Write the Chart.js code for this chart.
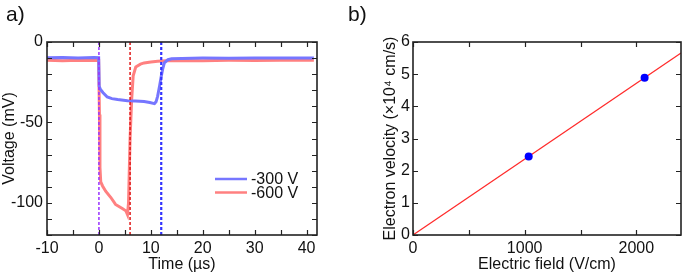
<!DOCTYPE html>
<html>
<head>
<meta charset="utf-8">
<script src="https://cdn.jsdelivr.net/npm/chart.js@4.4.1/dist/chart.umd.min.js"></script>
<style>
  body { margin: 0; background: #fff; }
  #wrap { position: relative; width: 685px; height: 274px; overflow: hidden; font-family: 'Liberation Sans', Arial, sans-serif; }
  canvas { position: absolute; top: 0; }
  #left { left: 0; }
  #right { left: 345px; }
  .panel { position: absolute; font-size: 21px; line-height: 1; color: #111; }
</style>
</head>
<body>
<div id="wrap">
  <canvas id="left" width="340" height="274"></canvas>
  <canvas id="right" width="340" height="274"></canvas>
  <div class="panel" style="left:6px;top:3px">a)</div>
  <div class="panel" style="left:348px;top:3px">b)</div>
</div>
<script>
/* panel a) - voltage transients, time in us, voltage in mV */
const seriesLabels = ['-300 V', '-600 V'];

const blueT = [-10, -7, -4, -1, -0.05, 0.05, 0.3, 0.8, 1.6, 2.5, 3.6, 5.5, 7, 8.7, 9.8, 10.7, 11.0, 11.3, 11.7, 12.0, 12.3, 12.6, 13.3, 14, 16, 20, 25, 30, 35, 41.4];
const blueV = [-9.8, -9.6, -9.9, -9.7, -9.8, -27.5, -29.5, -31.5, -34.2, -35.2, -35.8, -36.5, -36.7, -37.0, -37.6, -38.3, -37.2, -33.8, -27, -21.4, -16.5, -13, -11, -10.4, -10.2, -10.0, -10.1, -9.9, -10.0, -9.9];

const redT = [-10, -7, -4, -1, -0.05, 0.1, 0.2, 0.35, 0.7, 1.3, 2.3, 3.2, 4.5, 5.2, 5.5, 5.7, 6.0, 6.3, 6.6, 7.1, 8, 8.7, 10, 11.3, 13, 16, 20, 25, 30, 35, 41.4];
const redV = [-11.4, -11.6, -11.3, -11.5, -11.5, -45, -78, -87, -89.5, -92.8, -96.7, -101, -103.5, -105, -107.3, -100, -60, -36, -21, -15.5, -13.8, -13, -12.5, -12, -11.7, -11.5, -11.6, -11.4, -11.5, -11.4, -11.4];

const markerTimes = [0, 6, 12];

const aXTicks = [-10, -5, 0, 5, 10, 15, 20, 25, 30, 35, 40];
const aXLabels = [-10, 0, 10, 20, 30, 40];
const aYTicks = [-120, -110, -100, -90, -80, -70, -60, -50, -40, -30, -20, -10, 0];
const aYLabels = [-100, -50, 0];

/* panel b) - electron velocity vs field */
const fieldPts = [1036, 2074];
const velocityPts = [2.44, 4.89];
const fitField = [0, 2400];
const fitVelocity = [0, 5.66];

const bXTicks = [0, 500, 1000, 1500, 2000];
const bXLabels = [0, 1000, 2000];
const bYTicks = [0, 1, 2, 3, 4, 5, 6];

Chart.defaults.font.family = "'Liberation Sans', Arial, sans-serif";
Chart.defaults.font.size = 16;
Chart.defaults.color = '#111';

const toXY = (xs, ys) => xs.map((x, i) => ({ x: x, y: ys[i] }));

/* inward tick marks on all four sides + plot frame */
const frameTicks = {
  id: 'frameTicks',
  afterDatasetsDraw(chart) {
    const { ctx, chartArea: a, scales: { x, y } } = chart;
    ctx.save();
    ctx.strokeStyle = '#222';
    ctx.lineWidth = 1.2;
    ctx.beginPath();
    x.ticks.forEach(t => {
      const px = Math.round(x.getPixelForValue(t.value)) + 0.5;
      ctx.moveTo(px, a.bottom); ctx.lineTo(px, a.bottom - 5);
      ctx.moveTo(px, a.top); ctx.lineTo(px, a.top + 5);
    });
    y.ticks.forEach(t => {
      const py = Math.round(y.getPixelForValue(t.value)) + 0.5;
      ctx.moveTo(a.left, py); ctx.lineTo(a.left + 5, py);
      ctx.moveTo(a.right, py); ctx.lineTo(a.right - 5, py);
    });
    ctx.stroke();
    ctx.lineWidth = 1.6;
    ctx.strokeRect(a.left, a.top, a.width, a.height);
    ctx.restore();
  }
};

/* legend drawn inside panel a) */
const innerLegend = {
  id: 'innerLegend',
  afterDraw(chart) {
    const { ctx } = chart;
    const cols = ['rgb(118,118,255)', 'rgb(255,128,128)'];
    ctx.save();
    ctx.font = "16px 'Liberation Sans', Arial, sans-serif";
    ctx.textBaseline = 'middle';
    ctx.fillStyle = '#111';
    seriesLabels.forEach((lab, i) => {
      const yy = 179 + i * 13.5;
      ctx.strokeStyle = cols[i];
      ctx.lineWidth = 2.5;
      ctx.beginPath();
      ctx.moveTo(215, yy); ctx.lineTo(247, yy);
      ctx.stroke();
      ctx.fillText(lab, 251, yy + 1);
    });
    ctx.restore();
  }
};

function fixedTicks(list) {
  return scale => { scale.ticks = list.map(v => ({ value: v })); };
}

new Chart(document.getElementById('left'), {
  type: 'scatter',
  data: {
    datasets: [
      { data: toXY([markerTimes[0], markerTimes[0]], [0, -120]), showLine: true, pointRadius: 0, borderColor: '#9933ff', borderWidth: 1.5, borderDash: [3, 2] },
      { data: toXY([markerTimes[1], markerTimes[1]], [0, -120]), showLine: true, pointRadius: 0, borderColor: '#e01818', borderWidth: 1.5, borderDash: [3, 2] },
      { data: toXY([markerTimes[2], markerTimes[2]], [0, -120]), showLine: true, pointRadius: 0, borderColor: '#3333ff', borderWidth: 2.2, borderDash: [3, 2] },
      { label: seriesLabels[0], data: toXY(blueT, blueV), showLine: true, pointRadius: 0, borderColor: 'rgb(118,118,255)', borderWidth: 3 },
      { label: seriesLabels[1], data: toXY(redT, redV), showLine: true, pointRadius: 0, borderColor: 'rgb(255,128,128)', borderWidth: 3 }
    ]
  },
  options: {
    responsive: false,
    animation: false,
    devicePixelRatio: 1,
    layout: { padding: { left: 0, top: 42, right: 23, bottom: 0 } },
    plugins: { legend: { display: false }, tooltip: { enabled: false } },
    scales: {
      x: {
        type: 'linear', min: -10, max: 42,
        grid: { display: false, drawTicks: false },
        border: { display: false },
        afterBuildTicks: fixedTicks(aXTicks),
        afterFit: s => { s.height = 39; },
        ticks: { padding: 4, maxRotation: 0, autoSkip: false, callback: v => aXLabels.includes(v) ? String(v) : '' },
        title: { display: true, text: 'Time (\u00b5s)', padding: 0 }
      },
      y: {
        type: 'linear', min: -120, max: 0,
        grid: { display: false, drawTicks: false },
        border: { display: false },
        afterBuildTicks: fixedTicks(aYTicks),
        afterFit: s => { s.width = 47; },
        ticks: { padding: 4, autoSkip: false, callback: v => aYLabels.includes(v) ? String(v) : '' },
        title: { display: true, text: 'Voltage (mV)', padding: 0 }
      }
    }
  },
  plugins: [frameTicks, innerLegend]
});

new Chart(document.getElementById('right'), {
  type: 'scatter',
  data: {
    datasets: [
      { data: toXY(fieldPts, velocityPts), pointRadius: 4, pointBackgroundColor: '#0000ff', pointBorderColor: '#0000ff', borderWidth: 0 },
      { data: toXY(fitField, fitVelocity), showLine: true, pointRadius: 0, borderColor: '#ff2a2a', borderWidth: 1.2 }
    ]
  },
  options: {
    responsive: false,
    animation: false,
    devicePixelRatio: 1,
    layout: { padding: { left: 0, top: 42, right: 1, bottom: 0 } },
    plugins: { legend: { display: false }, tooltip: { enabled: false } },
    scales: {
      x: {
        type: 'linear', min: 0, max: 2400,
        grid: { display: false, drawTicks: false },
        border: { display: false },
        afterBuildTicks: fixedTicks(bXTicks),
        afterFit: s => { s.height = 39; },
        ticks: { padding: 4, maxRotation: 0, autoSkip: false, callback: v => bXLabels.includes(v) ? String(v) : '' },
        title: { display: true, text: 'Electric field (V/cm)', padding: 0 }
      },
      y: {
        type: 'linear', min: 0, max: 6,
        grid: { display: false, drawTicks: false },
        border: { display: false },
        afterBuildTicks: fixedTicks(bYTicks),
        afterFit: s => { s.width = 68; },
        ticks: { padding: 3, autoSkip: false, callback: v => String(v) },
        title: { display: true, text: 'Electron velocity (\u00d710\u2074 cm/s)', padding: { top: 36, bottom: 0 } }
      }
    }
  },
  plugins: [frameTicks]
});
</script>
</body>
</html>
